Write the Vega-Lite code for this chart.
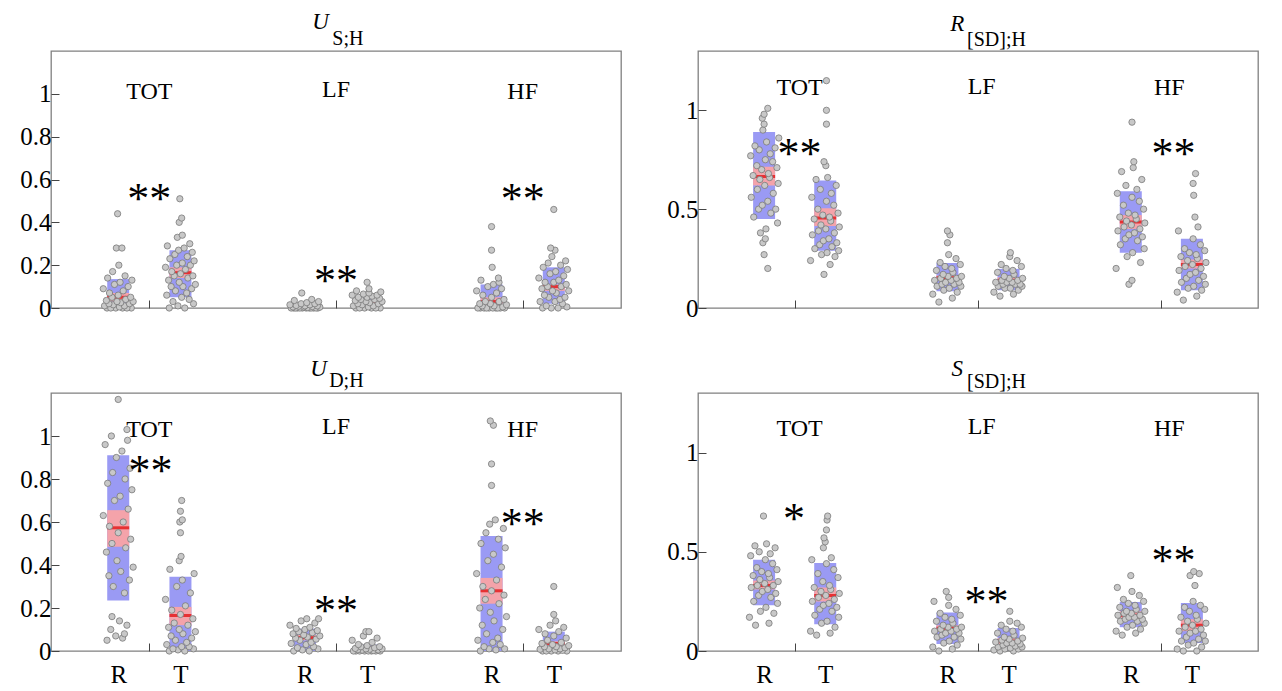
{
"$schema":"https://vega.github.io/schema/vega-lite/v6.json",
"background":"white",
"padding":{"left":19,"top":10,"right":0,"bottom":0},
"config":{
 "view":{"stroke":"#808080","strokeWidth":1.3},
 "font":"Liberation Serif",
 "axis":{"grid":false,"domain":false,"tickSize":-8,"tickColor":"#444","labelFont":"Liberation Serif","labelFontSize":25,"labelColor":"#000","labelPadding":8,"title":null}
},
"datasets":{
"stats":[
{"p":1,"x":1,"k":"sd","y":0,"y2":0.135},{"p":1,"x":1,"k":"ci","y":0.03,"y2":0.07},{"p":1,"x":1,"k":"m","y":0.05},
{"p":1,"x":2,"k":"sd","y":0.05,"y2":0.27},{"p":1,"x":2,"k":"ci","y":0.14,"y2":0.19},{"p":1,"x":2,"k":"m","y":0.165},
{"p":1,"x":4,"k":"sd","y":0,"y2":0.012},{"p":1,"x":4,"k":"ci","y":0.002,"y2":0.008},{"p":1,"x":4,"k":"m","y":0.005},
{"p":1,"x":5,"k":"sd","y":0,"y2":0.05},{"p":1,"x":5,"k":"ci","y":0.02,"y2":0.035},{"p":1,"x":5,"k":"m","y":0.028},
{"p":1,"x":7,"k":"sd","y":0,"y2":0.11},{"p":1,"x":7,"k":"ci","y":0.015,"y2":0.05},{"p":1,"x":7,"k":"m","y":0.03},
{"p":1,"x":8,"k":"sd","y":0.02,"y2":0.19},{"p":1,"x":8,"k":"ci","y":0.08,"y2":0.11},{"p":1,"x":8,"k":"m","y":0.1},
{"p":2,"x":1,"k":"sd","y":0.45,"y2":0.89},{"p":2,"x":1,"k":"ci","y":0.62,"y2":0.715},{"p":2,"x":1,"k":"m","y":0.665},
{"p":2,"x":2,"k":"sd","y":0.29,"y2":0.645},{"p":2,"x":2,"k":"ci","y":0.415,"y2":0.505},{"p":2,"x":2,"k":"m","y":0.455},
{"p":2,"x":4,"k":"sd","y":0.085,"y2":0.228},{"p":2,"x":4,"k":"ci","y":0.14,"y2":0.165},{"p":2,"x":4,"k":"m","y":0.153},
{"p":2,"x":5,"k":"sd","y":0.09,"y2":0.198},{"p":2,"x":5,"k":"ci","y":0.13,"y2":0.155},{"p":2,"x":5,"k":"m","y":0.14},
{"p":2,"x":7,"k":"sd","y":0.28,"y2":0.59},{"p":2,"x":7,"k":"ci","y":0.4,"y2":0.47},{"p":2,"x":7,"k":"m","y":0.435},
{"p":2,"x":8,"k":"sd","y":0.09,"y2":0.35},{"p":2,"x":8,"k":"ci","y":0.2,"y2":0.245},{"p":2,"x":8,"k":"m","y":0.22},
{"p":3,"x":1,"k":"sd","y":0.235,"y2":0.91},{"p":3,"x":1,"k":"ci","y":0.485,"y2":0.655},{"p":3,"x":1,"k":"m","y":0.573},
{"p":3,"x":2,"k":"sd","y":0,"y2":0.345},{"p":3,"x":2,"k":"ci","y":0.12,"y2":0.205},{"p":3,"x":2,"k":"m","y":0.165},
{"p":3,"x":4,"k":"sd","y":0,"y2":0.104},{"p":3,"x":4,"k":"ci","y":0.05,"y2":0.075},{"p":3,"x":4,"k":"m","y":0.062},
{"p":3,"x":5,"k":"sd","y":0,"y2":0.03},{"p":3,"x":5,"k":"ci","y":0.008,"y2":0.02},{"p":3,"x":5,"k":"m","y":0.014},
{"p":3,"x":7,"k":"sd","y":0,"y2":0.535},{"p":3,"x":7,"k":"ci","y":0.22,"y2":0.34},{"p":3,"x":7,"k":"m","y":0.28},
{"p":3,"x":8,"k":"sd","y":0,"y2":0.09},{"p":3,"x":8,"k":"ci","y":0.025,"y2":0.045},{"p":3,"x":8,"k":"m","y":0.035},
{"p":4,"x":1,"k":"sd","y":0.23,"y2":0.46},{"p":4,"x":1,"k":"ci","y":0.31,"y2":0.355},{"p":4,"x":1,"k":"m","y":0.33},
{"p":4,"x":2,"k":"sd","y":0.135,"y2":0.444},{"p":4,"x":2,"k":"ci","y":0.25,"y2":0.32},{"p":4,"x":2,"k":"m","y":0.28},
{"p":4,"x":4,"k":"sd","y":0.035,"y2":0.194},{"p":4,"x":4,"k":"ci","y":0.1,"y2":0.13},{"p":4,"x":4,"k":"m","y":0.115},
{"p":4,"x":5,"k":"sd","y":0,"y2":0.116},{"p":4,"x":5,"k":"ci","y":0.035,"y2":0.065},{"p":4,"x":5,"k":"m","y":0.05},
{"p":4,"x":7,"k":"sd","y":0.12,"y2":0.247},{"p":4,"x":7,"k":"ci","y":0.16,"y2":0.2},{"p":4,"x":7,"k":"m","y":0.18},
{"p":4,"x":8,"k":"sd","y":0.04,"y2":0.242},{"p":4,"x":8,"k":"ci","y":0.1,"y2":0.16},{"p":4,"x":8,"k":"m","y":0.13}
],
"txt":[
{"p":1,"k":"ttl","x":4.25,"y":1.303,"t":"U"},{"p":1,"k":"sub","x":4.44,"y":1.228,"t":"S;H"},
{"p":1,"k":"lab","x":1.5,"y":1.007,"t":"TOT"},{"p":1,"k":"lab","x":4.5,"y":1.02,"t":"LF"},{"p":1,"k":"lab","x":7.5,"y":1.007,"t":"HF"},
{"p":1,"k":"star","x":1.5,"y":0.55,"t":"**"},{"p":1,"k":"star","x":4.5,"y":0.17,"t":"**"},{"p":1,"k":"star","x":7.5,"y":0.55,"t":"**"},
{"p":2,"k":"ttl","x":4.16,"y":1.401,"t":"R"},{"p":2,"k":"sub","x":4.32,"y":1.325,"t":"[SD];H"},
{"p":2,"k":"lab","x":1.58,"y":1.115,"t":"TOT"},{"p":2,"k":"lab","x":4.56,"y":1.12,"t":"LF"},{"p":2,"k":"lab","x":7.63,"y":1.115,"t":"HF"},
{"p":2,"k":"star","x":1.58,"y":0.824,"t":"**"},{"p":2,"k":"star","x":7.7,"y":0.824,"t":"**"},
{"p":3,"k":"ttl","x":4.22,"y":1.279,"t":"U"},{"p":3,"k":"sub","x":4.39,"y":1.228,"t":"D;H"},
{"p":3,"k":"lab","x":1.5,"y":1.03,"t":"TOT"},{"p":3,"k":"lab","x":4.5,"y":1.04,"t":"LF"},{"p":3,"k":"lab","x":7.5,"y":1.03,"t":"HF"},
{"p":3,"k":"star","x":1.52,"y":0.88,"t":"**"},{"p":3,"k":"star","x":4.5,"y":0.228,"t":"**"},{"p":3,"k":"star","x":7.5,"y":0.632,"t":"**"},
{"p":4,"k":"ttl","x":4.16,"y":1.386,"t":"S"},{"p":4,"k":"sub","x":4.32,"y":1.325,"t":"[SD];H"},
{"p":4,"k":"lab","x":1.58,"y":1.12,"t":"TOT"},{"p":4,"k":"lab","x":4.56,"y":1.13,"t":"LF"},{"p":4,"k":"lab","x":7.63,"y":1.12,"t":"HF"},
{"p":4,"k":"star","x":1.49,"y":0.71,"t":"*"},{"p":4,"k":"star","x":4.64,"y":0.29,"t":"**"},{"p":4,"k":"star","x":7.7,"y":0.5,"t":"**"}
],
"pts":[
{"p":1,"x":0.82,"y":0},{"p":1,"x":1.07,"y":0},{"p":1,"x":0.96,"y":0},{"p":1,"x":1.21,"y":0},{"p":1,"x":0.88,"y":0},{"p":1,"x":1.14,"y":0},{"p":1,"x":1.02,"y":0.005},{"p":1,"x":0.78,"y":0.01},{"p":1,"x":1.1,"y":0.01},{"p":1,"x":0.92,"y":0.015},{"p":1,"x":1.18,"y":0.02},{"p":1,"x":0.85,"y":0.02},{"p":1,"x":1.04,"y":0.025},{"p":1,"x":1.24,"y":0.03},{"p":1,"x":0.98,"y":0.03},{"p":1,"x":0.81,"y":0.035},{"p":1,"x":1.12,"y":0.04},{"p":1,"x":0.9,"y":0.05},{"p":1,"x":1.2,"y":0.05},{"p":1,"x":1.0,"y":0.06},{"p":1,"x":0.86,"y":0.07},{"p":1,"x":1.08,"y":0.08},{"p":1,"x":0.76,"y":0.09},{"p":1,"x":1.16,"y":0.1},{"p":1,"x":0.94,"y":0.11},{"p":1,"x":1.03,"y":0.12},{"p":1,"x":1.22,"y":0.13},{"p":1,"x":0.83,"y":0.14},{"p":1,"x":1.11,"y":0.15},{"p":1,"x":0.91,"y":0.17},{"p":1,"x":1.01,"y":0.2},{"p":1,"x":0.97,"y":0.28},{"p":1,"x":1.06,"y":0.28},{"p":1,"x":0.99,"y":0.44},
{"p":1,"x":1.82,"y":0},{"p":1,"x":2.07,"y":0},{"p":1,"x":1.96,"y":0.01},{"p":1,"x":2.21,"y":0.02},{"p":1,"x":1.88,"y":0.03},{"p":1,"x":2.14,"y":0.04},{"p":1,"x":2.02,"y":0.05},{"p":1,"x":1.78,"y":0.06},{"p":1,"x":2.1,"y":0.07},{"p":1,"x":1.92,"y":0.08},{"p":1,"x":2.18,"y":0.09},{"p":1,"x":1.85,"y":0.1},{"p":1,"x":2.04,"y":0.1},{"p":1,"x":2.24,"y":0.11},{"p":1,"x":1.98,"y":0.12},{"p":1,"x":1.81,"y":0.13},{"p":1,"x":2.12,"y":0.14},{"p":1,"x":1.9,"y":0.15},{"p":1,"x":2.2,"y":0.15},{"p":1,"x":2.0,"y":0.16},{"p":1,"x":1.86,"y":0.17},{"p":1,"x":2.08,"y":0.18},{"p":1,"x":1.76,"y":0.19},{"p":1,"x":2.16,"y":0.2},{"p":1,"x":1.94,"y":0.2},{"p":1,"x":2.03,"y":0.21},{"p":1,"x":2.22,"y":0.22},{"p":1,"x":1.83,"y":0.23},{"p":1,"x":2.11,"y":0.24},{"p":1,"x":1.91,"y":0.25},{"p":1,"x":2.19,"y":0.26},{"p":1,"x":1.97,"y":0.27},{"p":1,"x":2.06,"y":0.28},{"p":1,"x":1.79,"y":0.29},{"p":1,"x":2.15,"y":0.3},{"p":1,"x":1.95,"y":0.33},{"p":1,"x":2.03,"y":0.34},{"p":1,"x":1.98,"y":0.4},{"p":1,"x":2.02,"y":0.42},{"p":1,"x":1.99,"y":0.51},
{"p":1,"x":3.82,"y":0},{"p":1,"x":4.07,"y":0},{"p":1,"x":3.96,"y":0},{"p":1,"x":4.21,"y":0},{"p":1,"x":3.88,"y":0},{"p":1,"x":4.14,"y":0},{"p":1,"x":4.02,"y":0},{"p":1,"x":3.78,"y":0},{"p":1,"x":4.1,"y":0},{"p":1,"x":3.92,"y":0},{"p":1,"x":4.18,"y":0},{"p":1,"x":3.85,"y":0},{"p":1,"x":4.04,"y":0.002},{"p":1,"x":4.24,"y":0.004},{"p":1,"x":3.98,"y":0.005},{"p":1,"x":3.81,"y":0.005},{"p":1,"x":4.12,"y":0.007},{"p":1,"x":3.9,"y":0.008},{"p":1,"x":4.2,"y":0.01},{"p":1,"x":4.0,"y":0.01},{"p":1,"x":3.86,"y":0.012},{"p":1,"x":4.08,"y":0.015},{"p":1,"x":3.76,"y":0.015},{"p":1,"x":4.16,"y":0.02},{"p":1,"x":3.94,"y":0.02},{"p":1,"x":4.03,"y":0.025},{"p":1,"x":4.22,"y":0.03},{"p":1,"x":3.83,"y":0.035},{"p":1,"x":4.11,"y":0.04},{"p":1,"x":3.95,"y":0.07},
{"p":1,"x":4.82,"y":0},{"p":1,"x":5.07,"y":0},{"p":1,"x":4.96,"y":0},{"p":1,"x":5.21,"y":0},{"p":1,"x":4.88,"y":0},{"p":1,"x":5.14,"y":0},{"p":1,"x":5.02,"y":0.005},{"p":1,"x":4.78,"y":0.01},{"p":1,"x":5.1,"y":0.01},{"p":1,"x":4.92,"y":0.015},{"p":1,"x":5.18,"y":0.02},{"p":1,"x":4.85,"y":0.02},{"p":1,"x":5.04,"y":0.025},{"p":1,"x":5.24,"y":0.03},{"p":1,"x":4.98,"y":0.03},{"p":1,"x":4.81,"y":0.035},{"p":1,"x":5.12,"y":0.04},{"p":1,"x":4.9,"y":0.04},{"p":1,"x":5.2,"y":0.045},{"p":1,"x":5.0,"y":0.05},{"p":1,"x":4.86,"y":0.05},{"p":1,"x":5.08,"y":0.055},{"p":1,"x":4.76,"y":0.06},{"p":1,"x":5.16,"y":0.06},{"p":1,"x":4.94,"y":0.065},{"p":1,"x":5.03,"y":0.07},{"p":1,"x":5.22,"y":0.075},{"p":1,"x":4.83,"y":0.08},{"p":1,"x":5.03,"y":0.09},{"p":1,"x":5.0,"y":0.12},
{"p":1,"x":6.82,"y":0},{"p":1,"x":7.07,"y":0},{"p":1,"x":6.96,"y":0},{"p":1,"x":7.21,"y":0},{"p":1,"x":6.88,"y":0},{"p":1,"x":7.14,"y":0},{"p":1,"x":7.02,"y":0},{"p":1,"x":6.78,"y":0},{"p":1,"x":7.1,"y":0},{"p":1,"x":6.92,"y":0},{"p":1,"x":7.18,"y":0.005},{"p":1,"x":6.85,"y":0.01},{"p":1,"x":7.04,"y":0.01},{"p":1,"x":7.24,"y":0.015},{"p":1,"x":6.98,"y":0.02},{"p":1,"x":6.81,"y":0.02},{"p":1,"x":7.12,"y":0.03},{"p":1,"x":6.9,"y":0.03},{"p":1,"x":7.2,"y":0.04},{"p":1,"x":7.0,"y":0.05},{"p":1,"x":6.86,"y":0.06},{"p":1,"x":7.08,"y":0.07},{"p":1,"x":6.76,"y":0.08},{"p":1,"x":7.16,"y":0.09},{"p":1,"x":6.94,"y":0.1},{"p":1,"x":7.03,"y":0.11},{"p":1,"x":7.12,"y":0.12},{"p":1,"x":6.83,"y":0.13},{"p":1,"x":7.11,"y":0.14},{"p":1,"x":7.01,"y":0.19},{"p":1,"x":7.0,"y":0.27},{"p":1,"x":7.0,"y":0.38},
{"p":1,"x":7.82,"y":0},{"p":1,"x":8.07,"y":0},{"p":1,"x":7.96,"y":0},{"p":1,"x":8.21,"y":0.005},{"p":1,"x":7.88,"y":0.01},{"p":1,"x":8.14,"y":0.02},{"p":1,"x":8.02,"y":0.03},{"p":1,"x":7.78,"y":0.03},{"p":1,"x":8.1,"y":0.04},{"p":1,"x":7.92,"y":0.05},{"p":1,"x":8.18,"y":0.05},{"p":1,"x":7.85,"y":0.06},{"p":1,"x":8.04,"y":0.07},{"p":1,"x":8.24,"y":0.08},{"p":1,"x":7.98,"y":0.08},{"p":1,"x":7.81,"y":0.09},{"p":1,"x":8.12,"y":0.1},{"p":1,"x":7.9,"y":0.1},{"p":1,"x":8.2,"y":0.11},{"p":1,"x":8.0,"y":0.12},{"p":1,"x":7.86,"y":0.12},{"p":1,"x":8.08,"y":0.13},{"p":1,"x":7.76,"y":0.14},{"p":1,"x":8.16,"y":0.15},{"p":1,"x":7.94,"y":0.16},{"p":1,"x":8.03,"y":0.17},{"p":1,"x":8.22,"y":0.18},{"p":1,"x":7.83,"y":0.19},{"p":1,"x":8.11,"y":0.2},{"p":1,"x":7.91,"y":0.21},{"p":1,"x":8.19,"y":0.22},{"p":1,"x":7.97,"y":0.24},{"p":1,"x":8.02,"y":0.27},{"p":1,"x":7.95,"y":0.28},{"p":1,"x":8.0,"y":0.46},
{"p":2,"x":1.06,"y":0.2},{"p":2,"x":1.0,"y":0.27},{"p":2,"x":0.98,"y":0.33},{"p":2,"x":1.02,"y":0.35},{"p":2,"x":0.94,"y":0.38},{"p":2,"x":1.03,"y":0.4},{"p":2,"x":1.22,"y":0.43},{"p":2,"x":0.83,"y":0.46},{"p":2,"x":1.11,"y":0.48},{"p":2,"x":0.91,"y":0.5},{"p":2,"x":1.19,"y":0.5},{"p":2,"x":0.97,"y":0.52},{"p":2,"x":1.06,"y":0.54},{"p":2,"x":0.79,"y":0.56},{"p":2,"x":1.15,"y":0.58},{"p":2,"x":0.89,"y":0.6},{"p":2,"x":1.01,"y":0.62},{"p":2,"x":1.23,"y":0.63},{"p":2,"x":0.93,"y":0.65},{"p":2,"x":1.09,"y":0.66},{"p":2,"x":0.82,"y":0.67},{"p":2,"x":1.07,"y":0.68},{"p":2,"x":0.96,"y":0.7},{"p":2,"x":1.21,"y":0.71},{"p":2,"x":0.88,"y":0.72},{"p":2,"x":1.14,"y":0.74},{"p":2,"x":1.02,"y":0.75},{"p":2,"x":0.78,"y":0.77},{"p":2,"x":1.1,"y":0.78},{"p":2,"x":0.92,"y":0.8},{"p":2,"x":1.18,"y":0.81},{"p":2,"x":0.85,"y":0.82},{"p":2,"x":1.04,"y":0.84},{"p":2,"x":1.24,"y":0.86},{"p":2,"x":0.98,"y":0.9},{"p":2,"x":1.0,"y":0.93},{"p":2,"x":0.97,"y":0.96},{"p":2,"x":1.0,"y":0.98},{"p":2,"x":1.06,"y":1.01},
{"p":2,"x":1.98,"y":0.17},{"p":2,"x":2.08,"y":0.22},{"p":2,"x":1.76,"y":0.24},{"p":2,"x":2.16,"y":0.26},{"p":2,"x":1.94,"y":0.27},{"p":2,"x":2.03,"y":0.28},{"p":2,"x":2.22,"y":0.29},{"p":2,"x":1.83,"y":0.3},{"p":2,"x":2.11,"y":0.31},{"p":2,"x":1.91,"y":0.32},{"p":2,"x":2.19,"y":0.33},{"p":2,"x":1.97,"y":0.34},{"p":2,"x":2.06,"y":0.35},{"p":2,"x":1.79,"y":0.37},{"p":2,"x":2.15,"y":0.38},{"p":2,"x":1.89,"y":0.39},{"p":2,"x":2.01,"y":0.4},{"p":2,"x":2.23,"y":0.41},{"p":2,"x":1.93,"y":0.42},{"p":2,"x":2.09,"y":0.44},{"p":2,"x":1.82,"y":0.45},{"p":2,"x":2.07,"y":0.46},{"p":2,"x":1.96,"y":0.47},{"p":2,"x":2.21,"y":0.48},{"p":2,"x":1.88,"y":0.5},{"p":2,"x":2.14,"y":0.52},{"p":2,"x":2.02,"y":0.54},{"p":2,"x":1.78,"y":0.56},{"p":2,"x":2.1,"y":0.58},{"p":2,"x":1.92,"y":0.6},{"p":2,"x":2.18,"y":0.62},{"p":2,"x":1.85,"y":0.65},{"p":2,"x":2.04,"y":0.66},{"p":2,"x":2.01,"y":0.72},{"p":2,"x":1.98,"y":0.74},{"p":2,"x":2.02,"y":0.93},{"p":2,"x":2.02,"y":1.0},{"p":2,"x":2.02,"y":1.15},
{"p":2,"x":3.86,"y":0.03},{"p":2,"x":4.08,"y":0.05},{"p":2,"x":3.76,"y":0.07},{"p":2,"x":4.16,"y":0.08},{"p":2,"x":3.94,"y":0.09},{"p":2,"x":4.03,"y":0.1},{"p":2,"x":4.22,"y":0.11},{"p":2,"x":3.83,"y":0.11},{"p":2,"x":4.11,"y":0.12},{"p":2,"x":3.91,"y":0.12},{"p":2,"x":4.19,"y":0.13},{"p":2,"x":3.97,"y":0.13},{"p":2,"x":4.06,"y":0.14},{"p":2,"x":3.79,"y":0.14},{"p":2,"x":4.15,"y":0.15},{"p":2,"x":3.89,"y":0.15},{"p":2,"x":4.01,"y":0.16},{"p":2,"x":4.23,"y":0.16},{"p":2,"x":3.93,"y":0.17},{"p":2,"x":4.09,"y":0.18},{"p":2,"x":3.82,"y":0.19},{"p":2,"x":4.07,"y":0.2},{"p":2,"x":3.96,"y":0.21},{"p":2,"x":4.21,"y":0.22},{"p":2,"x":3.88,"y":0.23},{"p":2,"x":4.14,"y":0.25},{"p":2,"x":4.02,"y":0.27},{"p":2,"x":4.0,"y":0.33},{"p":2,"x":4.04,"y":0.37},{"p":2,"x":4.0,"y":0.39},
{"p":2,"x":4.86,"y":0.06},{"p":2,"x":5.08,"y":0.07},{"p":2,"x":4.76,"y":0.08},{"p":2,"x":5.16,"y":0.09},{"p":2,"x":4.94,"y":0.1},{"p":2,"x":5.03,"y":0.1},{"p":2,"x":5.22,"y":0.11},{"p":2,"x":4.83,"y":0.11},{"p":2,"x":5.11,"y":0.12},{"p":2,"x":4.91,"y":0.12},{"p":2,"x":5.19,"y":0.12},{"p":2,"x":4.97,"y":0.13},{"p":2,"x":5.06,"y":0.13},{"p":2,"x":4.79,"y":0.13},{"p":2,"x":5.15,"y":0.14},{"p":2,"x":4.89,"y":0.14},{"p":2,"x":5.01,"y":0.15},{"p":2,"x":5.23,"y":0.15},{"p":2,"x":4.93,"y":0.16},{"p":2,"x":5.09,"y":0.17},{"p":2,"x":4.82,"y":0.18},{"p":2,"x":5.07,"y":0.19},{"p":2,"x":4.96,"y":0.2},{"p":2,"x":5.21,"y":0.21},{"p":2,"x":4.88,"y":0.22},{"p":2,"x":5.14,"y":0.24},{"p":2,"x":5.02,"y":0.26},{"p":2,"x":5.03,"y":0.28},
{"p":2,"x":6.97,"y":0.12},{"p":2,"x":7.02,"y":0.14},{"p":2,"x":6.76,"y":0.2},{"p":2,"x":7.16,"y":0.23},{"p":2,"x":6.94,"y":0.26},{"p":2,"x":7.03,"y":0.28},{"p":2,"x":7.22,"y":0.3},{"p":2,"x":6.83,"y":0.32},{"p":2,"x":7.11,"y":0.34},{"p":2,"x":6.91,"y":0.35},{"p":2,"x":7.19,"y":0.36},{"p":2,"x":6.97,"y":0.37},{"p":2,"x":7.06,"y":0.38},{"p":2,"x":6.79,"y":0.39},{"p":2,"x":7.15,"y":0.4},{"p":2,"x":6.89,"y":0.41},{"p":2,"x":7.01,"y":0.42},{"p":2,"x":7.23,"y":0.43},{"p":2,"x":6.93,"y":0.44},{"p":2,"x":7.09,"y":0.45},{"p":2,"x":6.82,"y":0.46},{"p":2,"x":7.07,"y":0.47},{"p":2,"x":6.96,"y":0.48},{"p":2,"x":7.21,"y":0.5},{"p":2,"x":6.88,"y":0.52},{"p":2,"x":7.14,"y":0.54},{"p":2,"x":7.02,"y":0.56},{"p":2,"x":6.78,"y":0.58},{"p":2,"x":7.1,"y":0.6},{"p":2,"x":6.92,"y":0.62},{"p":2,"x":7.18,"y":0.65},{"p":2,"x":6.85,"y":0.69},{"p":2,"x":7.04,"y":0.71},{"p":2,"x":7.05,"y":0.74},{"p":2,"x":7.02,"y":0.94},
{"p":2,"x":7.86,"y":0.04},{"p":2,"x":8.08,"y":0.06},{"p":2,"x":7.76,"y":0.08},{"p":2,"x":8.16,"y":0.09},{"p":2,"x":7.94,"y":0.1},{"p":2,"x":8.03,"y":0.11},{"p":2,"x":8.22,"y":0.12},{"p":2,"x":7.83,"y":0.13},{"p":2,"x":8.11,"y":0.14},{"p":2,"x":7.91,"y":0.15},{"p":2,"x":8.19,"y":0.16},{"p":2,"x":7.97,"y":0.17},{"p":2,"x":8.06,"y":0.18},{"p":2,"x":7.79,"y":0.19},{"p":2,"x":8.15,"y":0.2},{"p":2,"x":7.89,"y":0.21},{"p":2,"x":8.01,"y":0.22},{"p":2,"x":8.23,"y":0.23},{"p":2,"x":7.93,"y":0.24},{"p":2,"x":8.09,"y":0.25},{"p":2,"x":7.82,"y":0.26},{"p":2,"x":8.07,"y":0.27},{"p":2,"x":7.96,"y":0.28},{"p":2,"x":8.21,"y":0.29},{"p":2,"x":7.88,"y":0.3},{"p":2,"x":8.14,"y":0.32},{"p":2,"x":8.02,"y":0.35},{"p":2,"x":7.78,"y":0.39},{"p":2,"x":8.1,"y":0.41},{"p":2,"x":8.05,"y":0.46},{"p":2,"x":8.03,"y":0.57},{"p":2,"x":8.02,"y":0.63},{"p":2,"x":8.06,"y":0.68},
{"p":3,"x":0.82,"y":0.05},{"p":3,"x":1.07,"y":0.06},{"p":3,"x":0.96,"y":0.07},{"p":3,"x":1.1,"y":0.08},{"p":3,"x":0.88,"y":0.1},{"p":3,"x":1.14,"y":0.12},{"p":3,"x":1.02,"y":0.14},{"p":3,"x":0.9,"y":0.16},{"p":3,"x":1.1,"y":0.27},{"p":3,"x":0.92,"y":0.3},{"p":3,"x":1.18,"y":0.33},{"p":3,"x":0.85,"y":0.35},{"p":3,"x":1.04,"y":0.37},{"p":3,"x":1.24,"y":0.39},{"p":3,"x":0.98,"y":0.42},{"p":3,"x":0.81,"y":0.46},{"p":3,"x":1.12,"y":0.48},{"p":3,"x":0.9,"y":0.5},{"p":3,"x":1.2,"y":0.52},{"p":3,"x":1.0,"y":0.55},{"p":3,"x":0.86,"y":0.58},{"p":3,"x":1.08,"y":0.6},{"p":3,"x":0.76,"y":0.63},{"p":3,"x":1.16,"y":0.66},{"p":3,"x":0.94,"y":0.7},{"p":3,"x":1.03,"y":0.72},{"p":3,"x":1.22,"y":0.75},{"p":3,"x":0.83,"y":0.78},{"p":3,"x":1.11,"y":0.8},{"p":3,"x":0.91,"y":0.83},{"p":3,"x":1.19,"y":0.85},{"p":3,"x":0.97,"y":0.9},{"p":3,"x":1.06,"y":0.93},{"p":3,"x":0.79,"y":0.96},{"p":3,"x":1.15,"y":0.98},{"p":3,"x":0.89,"y":1.0},{"p":3,"x":1.14,"y":1.03},{"p":3,"x":1.0,"y":1.17},
{"p":3,"x":1.82,"y":0},{"p":3,"x":2.07,"y":0},{"p":3,"x":1.96,"y":0.005},{"p":3,"x":2.21,"y":0.01},{"p":3,"x":1.88,"y":0.01},{"p":3,"x":2.14,"y":0.02},{"p":3,"x":2.02,"y":0.02},{"p":3,"x":1.78,"y":0.03},{"p":3,"x":2.1,"y":0.04},{"p":3,"x":1.92,"y":0.05},{"p":3,"x":2.18,"y":0.06},{"p":3,"x":1.85,"y":0.07},{"p":3,"x":2.04,"y":0.08},{"p":3,"x":2.24,"y":0.09},{"p":3,"x":1.98,"y":0.1},{"p":3,"x":1.81,"y":0.11},{"p":3,"x":2.12,"y":0.12},{"p":3,"x":1.9,"y":0.13},{"p":3,"x":2.2,"y":0.15},{"p":3,"x":2.0,"y":0.17},{"p":3,"x":1.86,"y":0.19},{"p":3,"x":2.08,"y":0.21},{"p":3,"x":1.76,"y":0.24},{"p":3,"x":2.16,"y":0.27},{"p":3,"x":1.94,"y":0.3},{"p":3,"x":2.03,"y":0.33},{"p":3,"x":2.22,"y":0.36},{"p":3,"x":1.83,"y":0.38},{"p":3,"x":1.98,"y":0.42},{"p":3,"x":2.01,"y":0.44},{"p":3,"x":2.0,"y":0.55},{"p":3,"x":1.99,"y":0.6},{"p":3,"x":2.03,"y":0.61},{"p":3,"x":2.0,"y":0.65},{"p":3,"x":2.02,"y":0.7},
{"p":3,"x":3.82,"y":0},{"p":3,"x":4.07,"y":0},{"p":3,"x":3.96,"y":0.005},{"p":3,"x":4.21,"y":0.01},{"p":3,"x":3.88,"y":0.015},{"p":3,"x":4.14,"y":0.02},{"p":3,"x":4.02,"y":0.03},{"p":3,"x":3.78,"y":0.035},{"p":3,"x":4.1,"y":0.04},{"p":3,"x":3.92,"y":0.05},{"p":3,"x":4.18,"y":0.055},{"p":3,"x":3.85,"y":0.06},{"p":3,"x":4.04,"y":0.065},{"p":3,"x":4.24,"y":0.07},{"p":3,"x":3.98,"y":0.075},{"p":3,"x":3.81,"y":0.08},{"p":3,"x":4.12,"y":0.085},{"p":3,"x":3.9,"y":0.09},{"p":3,"x":4.2,"y":0.095},{"p":3,"x":4.0,"y":0.1},{"p":3,"x":3.86,"y":0.105},{"p":3,"x":4.08,"y":0.11},{"p":3,"x":3.76,"y":0.12},{"p":3,"x":4.16,"y":0.13},{"p":3,"x":3.94,"y":0.14},{"p":3,"x":4.03,"y":0.15},{"p":3,"x":4.22,"y":0.15},
{"p":3,"x":4.82,"y":0},{"p":3,"x":5.07,"y":0},{"p":3,"x":4.96,"y":0},{"p":3,"x":5.21,"y":0},{"p":3,"x":4.88,"y":0},{"p":3,"x":5.14,"y":0},{"p":3,"x":5.02,"y":0},{"p":3,"x":4.78,"y":0},{"p":3,"x":5.1,"y":0.002},{"p":3,"x":4.92,"y":0.004},{"p":3,"x":5.18,"y":0.005},{"p":3,"x":4.85,"y":0.006},{"p":3,"x":5.04,"y":0.008},{"p":3,"x":5.24,"y":0.01},{"p":3,"x":4.98,"y":0.01},{"p":3,"x":4.81,"y":0.012},{"p":3,"x":5.12,"y":0.015},{"p":3,"x":4.9,"y":0.02},{"p":3,"x":5.2,"y":0.02},{"p":3,"x":5.0,"y":0.025},{"p":3,"x":4.86,"y":0.03},{"p":3,"x":5.08,"y":0.04},{"p":3,"x":4.76,"y":0.05},{"p":3,"x":5.16,"y":0.06},{"p":3,"x":4.94,"y":0.07},{"p":3,"x":4.98,"y":0.09},{"p":3,"x":5.03,"y":0.09},
{"p":3,"x":6.82,"y":0},{"p":3,"x":7.07,"y":0.005},{"p":3,"x":6.96,"y":0.01},{"p":3,"x":7.21,"y":0.01},{"p":3,"x":6.88,"y":0.02},{"p":3,"x":7.14,"y":0.03},{"p":3,"x":7.02,"y":0.04},{"p":3,"x":6.78,"y":0.05},{"p":3,"x":7.1,"y":0.06},{"p":3,"x":6.92,"y":0.08},{"p":3,"x":7.18,"y":0.1},{"p":3,"x":6.85,"y":0.12},{"p":3,"x":7.04,"y":0.14},{"p":3,"x":7.24,"y":0.16},{"p":3,"x":6.98,"y":0.18},{"p":3,"x":6.81,"y":0.2},{"p":3,"x":7.12,"y":0.22},{"p":3,"x":6.9,"y":0.24},{"p":3,"x":7.2,"y":0.26},{"p":3,"x":7.0,"y":0.28},{"p":3,"x":6.86,"y":0.3},{"p":3,"x":7.08,"y":0.33},{"p":3,"x":6.76,"y":0.36},{"p":3,"x":7.16,"y":0.39},{"p":3,"x":6.94,"y":0.42},{"p":3,"x":7.03,"y":0.45},{"p":3,"x":7.22,"y":0.48},{"p":3,"x":6.83,"y":0.5},{"p":3,"x":7.11,"y":0.52},{"p":3,"x":6.91,"y":0.55},{"p":3,"x":7.19,"y":0.57},{"p":3,"x":6.97,"y":0.59},{"p":3,"x":7.06,"y":0.61},{"p":3,"x":7.0,"y":0.77},{"p":3,"x":7.0,"y":0.87},{"p":3,"x":7.03,"y":1.05},{"p":3,"x":6.98,"y":1.07},
{"p":3,"x":7.82,"y":0},{"p":3,"x":8.07,"y":0},{"p":3,"x":7.96,"y":0},{"p":3,"x":8.21,"y":0},{"p":3,"x":7.88,"y":0},{"p":3,"x":8.14,"y":0.003},{"p":3,"x":8.02,"y":0.005},{"p":3,"x":7.78,"y":0.008},{"p":3,"x":8.1,"y":0.01},{"p":3,"x":7.92,"y":0.01},{"p":3,"x":8.18,"y":0.015},{"p":3,"x":7.85,"y":0.02},{"p":3,"x":8.04,"y":0.02},{"p":3,"x":8.24,"y":0.025},{"p":3,"x":7.98,"y":0.03},{"p":3,"x":7.81,"y":0.035},{"p":3,"x":8.12,"y":0.04},{"p":3,"x":7.9,"y":0.05},{"p":3,"x":8.2,"y":0.06},{"p":3,"x":8.0,"y":0.07},{"p":3,"x":7.86,"y":0.08},{"p":3,"x":8.08,"y":0.09},{"p":3,"x":7.76,"y":0.1},{"p":3,"x":8.16,"y":0.11},{"p":3,"x":7.94,"y":0.12},{"p":3,"x":8.03,"y":0.14},{"p":3,"x":8.0,"y":0.17},{"p":3,"x":8.0,"y":0.3},
{"p":4,"x":0.86,"y":0.13},{"p":4,"x":1.08,"y":0.14},{"p":4,"x":0.76,"y":0.17},{"p":4,"x":1.16,"y":0.19},{"p":4,"x":0.94,"y":0.2},{"p":4,"x":1.03,"y":0.22},{"p":4,"x":1.22,"y":0.24},{"p":4,"x":0.83,"y":0.25},{"p":4,"x":1.11,"y":0.27},{"p":4,"x":0.91,"y":0.28},{"p":4,"x":1.19,"y":0.29},{"p":4,"x":0.97,"y":0.3},{"p":4,"x":1.06,"y":0.31},{"p":4,"x":0.79,"y":0.32},{"p":4,"x":1.15,"y":0.33},{"p":4,"x":0.89,"y":0.33},{"p":4,"x":1.01,"y":0.34},{"p":4,"x":1.23,"y":0.35},{"p":4,"x":0.93,"y":0.36},{"p":4,"x":1.09,"y":0.37},{"p":4,"x":0.82,"y":0.38},{"p":4,"x":1.07,"y":0.39},{"p":4,"x":0.96,"y":0.4},{"p":4,"x":1.21,"y":0.41},{"p":4,"x":0.88,"y":0.42},{"p":4,"x":1.14,"y":0.44},{"p":4,"x":1.02,"y":0.46},{"p":4,"x":0.78,"y":0.48},{"p":4,"x":1.1,"y":0.49},{"p":4,"x":0.92,"y":0.5},{"p":4,"x":1.18,"y":0.52},{"p":4,"x":0.85,"y":0.53},{"p":4,"x":1.04,"y":0.54},{"p":4,"x":0.99,"y":0.68},
{"p":4,"x":1.86,"y":0.08},{"p":4,"x":2.08,"y":0.09},{"p":4,"x":1.76,"y":0.1},{"p":4,"x":2.16,"y":0.12},{"p":4,"x":1.94,"y":0.14},{"p":4,"x":2.03,"y":0.15},{"p":4,"x":2.22,"y":0.17},{"p":4,"x":1.83,"y":0.18},{"p":4,"x":2.11,"y":0.2},{"p":4,"x":1.91,"y":0.21},{"p":4,"x":2.19,"y":0.22},{"p":4,"x":1.97,"y":0.23},{"p":4,"x":2.06,"y":0.24},{"p":4,"x":1.79,"y":0.25},{"p":4,"x":2.15,"y":0.26},{"p":4,"x":1.89,"y":0.27},{"p":4,"x":2.01,"y":0.28},{"p":4,"x":2.23,"y":0.29},{"p":4,"x":1.93,"y":0.3},{"p":4,"x":2.09,"y":0.31},{"p":4,"x":1.82,"y":0.32},{"p":4,"x":2.07,"y":0.33},{"p":4,"x":1.96,"y":0.35},{"p":4,"x":2.21,"y":0.37},{"p":4,"x":1.88,"y":0.39},{"p":4,"x":2.14,"y":0.41},{"p":4,"x":2.02,"y":0.44},{"p":4,"x":1.78,"y":0.46},{"p":4,"x":2.1,"y":0.47},{"p":4,"x":1.97,"y":0.52},{"p":4,"x":2.0,"y":0.55},{"p":4,"x":1.98,"y":0.57},{"p":4,"x":2.02,"y":0.61},{"p":4,"x":2.03,"y":0.66},{"p":4,"x":2.04,"y":0.68},
{"p":4,"x":3.86,"y":0},{"p":4,"x":4.08,"y":0.01},{"p":4,"x":3.76,"y":0.02},{"p":4,"x":4.16,"y":0.03},{"p":4,"x":3.94,"y":0.04},{"p":4,"x":4.03,"y":0.05},{"p":4,"x":4.22,"y":0.06},{"p":4,"x":3.83,"y":0.07},{"p":4,"x":4.11,"y":0.07},{"p":4,"x":3.91,"y":0.08},{"p":4,"x":4.19,"y":0.09},{"p":4,"x":3.97,"y":0.09},{"p":4,"x":4.06,"y":0.1},{"p":4,"x":3.79,"y":0.1},{"p":4,"x":4.15,"y":0.11},{"p":4,"x":3.89,"y":0.11},{"p":4,"x":4.01,"y":0.12},{"p":4,"x":4.23,"y":0.12},{"p":4,"x":3.93,"y":0.13},{"p":4,"x":4.09,"y":0.14},{"p":4,"x":3.82,"y":0.15},{"p":4,"x":4.07,"y":0.16},{"p":4,"x":3.96,"y":0.17},{"p":4,"x":4.21,"y":0.18},{"p":4,"x":3.88,"y":0.19},{"p":4,"x":4.14,"y":0.21},{"p":4,"x":4.02,"y":0.23},{"p":4,"x":3.78,"y":0.25},{"p":4,"x":4.02,"y":0.27},{"p":4,"x":3.98,"y":0.3},
{"p":4,"x":4.86,"y":0},{"p":4,"x":5.08,"y":0},{"p":4,"x":4.76,"y":0.005},{"p":4,"x":5.16,"y":0.01},{"p":4,"x":4.94,"y":0.01},{"p":4,"x":5.03,"y":0.015},{"p":4,"x":5.22,"y":0.02},{"p":4,"x":4.83,"y":0.02},{"p":4,"x":5.11,"y":0.025},{"p":4,"x":4.91,"y":0.03},{"p":4,"x":5.19,"y":0.035},{"p":4,"x":4.97,"y":0.04},{"p":4,"x":5.06,"y":0.04},{"p":4,"x":4.79,"y":0.045},{"p":4,"x":5.15,"y":0.05},{"p":4,"x":4.89,"y":0.055},{"p":4,"x":5.01,"y":0.06},{"p":4,"x":5.23,"y":0.065},{"p":4,"x":4.93,"y":0.07},{"p":4,"x":5.09,"y":0.08},{"p":4,"x":4.82,"y":0.09},{"p":4,"x":5.07,"y":0.1},{"p":4,"x":4.96,"y":0.11},{"p":4,"x":5.21,"y":0.12},{"p":4,"x":4.88,"y":0.13},{"p":4,"x":5.14,"y":0.14},{"p":4,"x":5.02,"y":0.15},{"p":4,"x":5.02,"y":0.2},
{"p":4,"x":6.86,"y":0.08},{"p":4,"x":7.08,"y":0.09},{"p":4,"x":6.76,"y":0.1},{"p":4,"x":7.16,"y":0.11},{"p":4,"x":6.94,"y":0.12},{"p":4,"x":7.03,"y":0.13},{"p":4,"x":7.22,"y":0.14},{"p":4,"x":6.83,"y":0.15},{"p":4,"x":7.11,"y":0.15},{"p":4,"x":6.91,"y":0.16},{"p":4,"x":7.19,"y":0.16},{"p":4,"x":6.97,"y":0.17},{"p":4,"x":7.06,"y":0.17},{"p":4,"x":6.79,"y":0.18},{"p":4,"x":7.15,"y":0.18},{"p":4,"x":6.89,"y":0.19},{"p":4,"x":7.01,"y":0.19},{"p":4,"x":7.23,"y":0.2},{"p":4,"x":6.93,"y":0.2},{"p":4,"x":7.09,"y":0.21},{"p":4,"x":6.82,"y":0.22},{"p":4,"x":7.07,"y":0.23},{"p":4,"x":6.96,"y":0.24},{"p":4,"x":7.21,"y":0.25},{"p":4,"x":6.88,"y":0.26},{"p":4,"x":7.14,"y":0.28},{"p":4,"x":7.02,"y":0.3},{"p":4,"x":6.78,"y":0.32},{"p":4,"x":7.0,"y":0.38},
{"p":4,"x":7.86,"y":0},{"p":4,"x":8.08,"y":0},{"p":4,"x":7.76,"y":0.01},{"p":4,"x":8.16,"y":0.02},{"p":4,"x":7.94,"y":0.03},{"p":4,"x":8.03,"y":0.04},{"p":4,"x":8.22,"y":0.05},{"p":4,"x":7.83,"y":0.05},{"p":4,"x":8.11,"y":0.06},{"p":4,"x":7.91,"y":0.07},{"p":4,"x":8.19,"y":0.08},{"p":4,"x":7.97,"y":0.09},{"p":4,"x":8.06,"y":0.1},{"p":4,"x":7.79,"y":0.1},{"p":4,"x":8.15,"y":0.11},{"p":4,"x":7.89,"y":0.12},{"p":4,"x":8.01,"y":0.13},{"p":4,"x":8.23,"y":0.14},{"p":4,"x":7.93,"y":0.15},{"p":4,"x":8.09,"y":0.16},{"p":4,"x":7.82,"y":0.17},{"p":4,"x":8.07,"y":0.18},{"p":4,"x":7.96,"y":0.2},{"p":4,"x":8.21,"y":0.21},{"p":4,"x":7.88,"y":0.22},{"p":4,"x":8.14,"y":0.23},{"p":4,"x":8.02,"y":0.25},{"p":4,"x":8.05,"y":0.33},{"p":4,"x":7.97,"y":0.38},{"p":4,"x":8.12,"y":0.39},{"p":4,"x":8.03,"y":0.4}
]
},
"vconcat":[
{"hconcat":[
{"width":570,"height":257,
 "encoding":{"x":{"field":"x","type":"quantitative","scale":{"domain":[0,9]},"axis":{"values":[1.5,4.5,7.5],"labels":false,"title":null}},
  "y":{"field":"y","type":"quantitative","scale":{"domain":[0,1.2]},"axis":{"values":[0,0.2,0.4,0.6,0.8,1],"format":"~g","title":null}}},
 "layer":[
  {"data":{"name":"stats"},"transform":[{"filter":"datum.p==1&&datum.k=='sd'"}],"mark":{"type":"bar","width":22,"color":"#9a9af4"},"encoding":{"y2":{"field":"y2"}}},
  {"data":{"name":"stats"},"transform":[{"filter":"datum.p==1&&datum.k=='ci'"}],"mark":{"type":"bar","width":22,"color":"#f4a3aa"},"encoding":{"y2":{"field":"y2"}}},
  {"data":{"name":"stats"},"transform":[{"filter":"datum.p==1&&datum.k=='m'"}],"mark":{"type":"tick","orient":"horizontal","color":"#e00000","thickness":3,"size":22},"encoding":{}},
  {"data":{"name":"pts"},"transform":[{"filter":"datum.p==1"}],"mark":{"type":"circle","size":40,"fill":"#c8c8c8","stroke":"#7a7a7a","strokeWidth":0.8,"opacity":1},"encoding":{}},
  {"data":{"name":"txt"},"transform":[{"filter":"datum.p==1&&datum.k=='lab'"}],"mark":{"type":"text","fontSize":24,"font":"Liberation Serif","color":"#000","baseline":"middle"},"encoding":{"text":{"field":"t"}}},
  {"data":{"name":"txt"},"transform":[{"filter":"datum.p==1&&datum.k=='star'"}],"mark":{"type":"text","fontSize":44,"font":"Liberation Serif","color":"#000","baseline":"middle","dy":10},"encoding":{"text":{"field":"t"}}},
  {"data":{"name":"txt"},"transform":[{"filter":"datum.p==1&&datum.k=='ttl'"}],"mark":{"type":"text","fontSize":23,"font":"Liberation Serif","fontStyle":"italic","color":"#000","baseline":"alphabetic","align":"center"},"encoding":{"text":{"field":"t"}}},
  {"data":{"name":"txt"},"transform":[{"filter":"datum.p==1&&datum.k=='sub'"}],"mark":{"type":"text","fontSize":20,"font":"Liberation Serif","color":"#000","baseline":"alphabetic","align":"left"},"encoding":{"text":{"field":"t"}}}
 ]},
{"width":560,"height":257,
 "encoding":{"x":{"field":"x","type":"quantitative","scale":{"domain":[0,9]},"axis":{"values":[1.5,4.5,7.5],"labels":false,"title":null}},
  "y":{"field":"y","type":"quantitative","scale":{"domain":[0,1.3]},"axis":{"values":[0,0.5,1],"format":"~g","title":null}}},
 "layer":[
  {"data":{"name":"stats"},"transform":[{"filter":"datum.p==2&&datum.k=='sd'"}],"mark":{"type":"bar","width":22,"color":"#9a9af4"},"encoding":{"y2":{"field":"y2"}}},
  {"data":{"name":"stats"},"transform":[{"filter":"datum.p==2&&datum.k=='ci'"}],"mark":{"type":"bar","width":22,"color":"#f4a3aa"},"encoding":{"y2":{"field":"y2"}}},
  {"data":{"name":"stats"},"transform":[{"filter":"datum.p==2&&datum.k=='m'"}],"mark":{"type":"tick","orient":"horizontal","color":"#e00000","thickness":3,"size":22},"encoding":{}},
  {"data":{"name":"pts"},"transform":[{"filter":"datum.p==2"}],"mark":{"type":"circle","size":40,"fill":"#c8c8c8","stroke":"#7a7a7a","strokeWidth":0.8,"opacity":1},"encoding":{}},
  {"data":{"name":"txt"},"transform":[{"filter":"datum.p==2&&datum.k=='lab'"}],"mark":{"type":"text","fontSize":24,"font":"Liberation Serif","color":"#000","baseline":"middle"},"encoding":{"text":{"field":"t"}}},
  {"data":{"name":"txt"},"transform":[{"filter":"datum.p==2&&datum.k=='star'"}],"mark":{"type":"text","fontSize":44,"font":"Liberation Serif","color":"#000","baseline":"middle","dy":10},"encoding":{"text":{"field":"t"}}},
  {"data":{"name":"txt"},"transform":[{"filter":"datum.p==2&&datum.k=='ttl'"}],"mark":{"type":"text","fontSize":23,"font":"Liberation Serif","fontStyle":"italic","color":"#000","baseline":"alphabetic","align":"center"},"encoding":{"text":{"field":"t"}}},
  {"data":{"name":"txt"},"transform":[{"filter":"datum.p==2&&datum.k=='sub'"}],"mark":{"type":"text","fontSize":20,"font":"Liberation Serif","color":"#000","baseline":"alphabetic","align":"left"},"encoding":{"text":{"field":"t"}}}
 ]}
],"spacing":44},
{"hconcat":[
{"width":570,"height":258,
 "encoding":{"x":{"field":"x","type":"quantitative","scale":{"domain":[0,9]},"axis":{"values":[1,1.5,2,4,4.5,5,7,7.5,8],"title":null,"labelOverlap":false,"labelFlush":false,"labelPadding":19,"labelExpr":"datum.value%3==1?'R':(datum.value%3==2?'T':'')","tickOpacity":{"condition":{"test":"datum.value%3==1.5","value":1},"value":0}}},
  "y":{"field":"y","type":"quantitative","scale":{"domain":[0,1.2]},"axis":{"values":[0,0.2,0.4,0.6,0.8,1],"format":"~g","title":null}}},
 "layer":[
  {"data":{"name":"stats"},"transform":[{"filter":"datum.p==3&&datum.k=='sd'"}],"mark":{"type":"bar","width":22,"color":"#9a9af4"},"encoding":{"y2":{"field":"y2"}}},
  {"data":{"name":"stats"},"transform":[{"filter":"datum.p==3&&datum.k=='ci'"}],"mark":{"type":"bar","width":22,"color":"#f4a3aa"},"encoding":{"y2":{"field":"y2"}}},
  {"data":{"name":"stats"},"transform":[{"filter":"datum.p==3&&datum.k=='m'"}],"mark":{"type":"tick","orient":"horizontal","color":"#e00000","thickness":3,"size":22},"encoding":{}},
  {"data":{"name":"pts"},"transform":[{"filter":"datum.p==3"}],"mark":{"type":"circle","size":40,"fill":"#c8c8c8","stroke":"#7a7a7a","strokeWidth":0.8,"opacity":1},"encoding":{}},
  {"data":{"name":"txt"},"transform":[{"filter":"datum.p==3&&datum.k=='lab'"}],"mark":{"type":"text","fontSize":24,"font":"Liberation Serif","color":"#000","baseline":"middle"},"encoding":{"text":{"field":"t"}}},
  {"data":{"name":"txt"},"transform":[{"filter":"datum.p==3&&datum.k=='star'"}],"mark":{"type":"text","fontSize":44,"font":"Liberation Serif","color":"#000","baseline":"middle","dy":10},"encoding":{"text":{"field":"t"}}},
  {"data":{"name":"txt"},"transform":[{"filter":"datum.p==3&&datum.k=='ttl'"}],"mark":{"type":"text","fontSize":23,"font":"Liberation Serif","fontStyle":"italic","color":"#000","baseline":"alphabetic","align":"center"},"encoding":{"text":{"field":"t"}}},
  {"data":{"name":"txt"},"transform":[{"filter":"datum.p==3&&datum.k=='sub'"}],"mark":{"type":"text","fontSize":20,"font":"Liberation Serif","color":"#000","baseline":"alphabetic","align":"left"},"encoding":{"text":{"field":"t"}}}
 ]},
{"width":560,"height":258,
 "encoding":{"x":{"field":"x","type":"quantitative","scale":{"domain":[0,9]},"axis":{"values":[1,1.5,2,4,4.5,5,7,7.5,8],"title":null,"labelOverlap":false,"labelFlush":false,"labelPadding":19,"labelExpr":"datum.value%3==1?'R':(datum.value%3==2?'T':'')","tickOpacity":{"condition":{"test":"datum.value%3==1.5","value":1},"value":0}}},
  "y":{"field":"y","type":"quantitative","scale":{"domain":[0,1.3]},"axis":{"values":[0,0.5,1],"format":"~g","title":null}}},
 "layer":[
  {"data":{"name":"stats"},"transform":[{"filter":"datum.p==4&&datum.k=='sd'"}],"mark":{"type":"bar","width":22,"color":"#9a9af4"},"encoding":{"y2":{"field":"y2"}}},
  {"data":{"name":"stats"},"transform":[{"filter":"datum.p==4&&datum.k=='ci'"}],"mark":{"type":"bar","width":22,"color":"#f4a3aa"},"encoding":{"y2":{"field":"y2"}}},
  {"data":{"name":"stats"},"transform":[{"filter":"datum.p==4&&datum.k=='m'"}],"mark":{"type":"tick","orient":"horizontal","color":"#e00000","thickness":3,"size":22},"encoding":{}},
  {"data":{"name":"pts"},"transform":[{"filter":"datum.p==4"}],"mark":{"type":"circle","size":40,"fill":"#c8c8c8","stroke":"#7a7a7a","strokeWidth":0.8,"opacity":1},"encoding":{}},
  {"data":{"name":"txt"},"transform":[{"filter":"datum.p==4&&datum.k=='lab'"}],"mark":{"type":"text","fontSize":24,"font":"Liberation Serif","color":"#000","baseline":"middle"},"encoding":{"text":{"field":"t"}}},
  {"data":{"name":"txt"},"transform":[{"filter":"datum.p==4&&datum.k=='star'"}],"mark":{"type":"text","fontSize":44,"font":"Liberation Serif","color":"#000","baseline":"middle","dy":10},"encoding":{"text":{"field":"t"}}},
  {"data":{"name":"txt"},"transform":[{"filter":"datum.p==4&&datum.k=='ttl'"}],"mark":{"type":"text","fontSize":23,"font":"Liberation Serif","fontStyle":"italic","color":"#000","baseline":"alphabetic","align":"center"},"encoding":{"text":{"field":"t"}}},
  {"data":{"name":"txt"},"transform":[{"filter":"datum.p==4&&datum.k=='sub'"}],"mark":{"type":"text","fontSize":20,"font":"Liberation Serif","color":"#000","baseline":"alphabetic","align":"left"},"encoding":{"text":{"field":"t"}}}
 ]}
],"spacing":44}
],
"spacing":35
}
